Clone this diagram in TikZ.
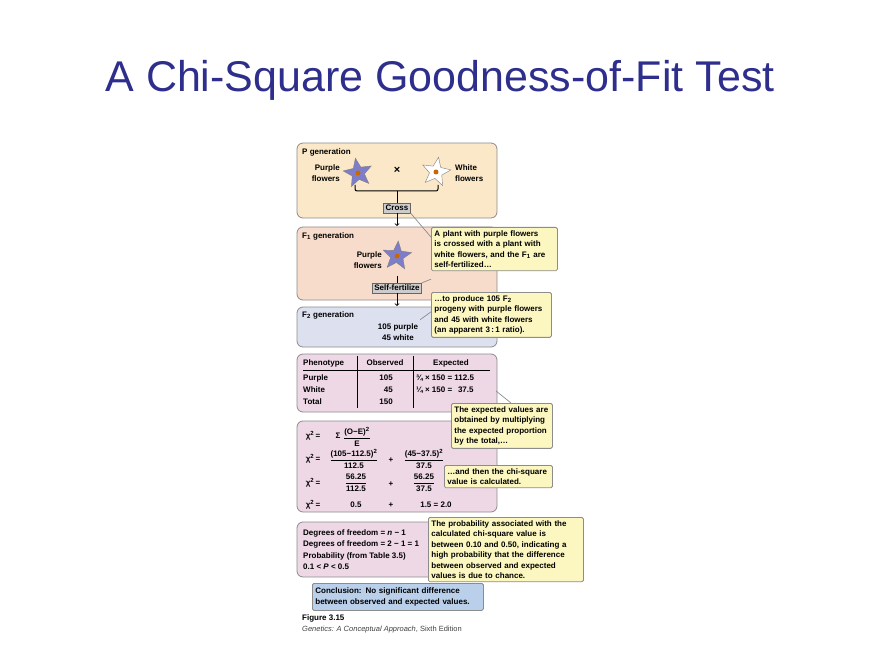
\documentclass[tikz,border=0pt]{standalone}
\usepackage{amsmath}
\usepackage{fontspec}
\setmainfont{Liberation Sans}
\usetikzlibrary{positioning, shapes.geometric}
\definecolor{titleblue}{HTML}{2E2E8C}
\definecolor{pgen}{HTML}{FBE8C8}
\definecolor{fgen}{HTML}{F7DCCB}
\definecolor{ftwo}{HTML}{DDE0EF}
\definecolor{calc}{HTML}{EED8E6}
\definecolor{note}{HTML}{FCF7C0}
\definecolor{concl}{HTML}{B9CFEA}
\definecolor{flowerp}{HTML}{7E7EC8}
\newcommand{\chisq}{χ\textsuperscript{2}\,=}
\tikzset{genbox/.style={draw=black!45, line width=0.8pt, rounded corners=6pt},
         callout/.style={draw=black!45, line width=0.8pt, fill=note, rounded corners=1.5pt, align=left, anchor=north west, inner sep=3pt},
         stepbox/.style={draw=black!60, fill=black!20, inner sep=2pt, font=\fontsize{8}{9}\selectfont\bfseries},
         txt/.style={font=\fontsize{8}{10.5}\selectfont\bfseries, inner sep=0pt, align=left},
         pointer/.style={draw=black!45, line width=0.7pt},
         flower/.style={star, star points=5, star point ratio=2.3, minimum size=30pt, inner sep=0pt, draw=black!50},
         every arrow/.style={thick,>=stealth}}
\begin{document}
\begin{tikzpicture}[x=1pt, y=-1pt]
        \useasboundingbox (0,0) rectangle (880,660);
        \node (title) at (440,80) {\fontsize{43}{45}\selectfont\color{titleblue}A Chi-Square Goodness-of-Fit Test};

        % generation panels
        \draw [genbox, fill=pgen] (297,143) rectangle (497,218);
        \draw [genbox, fill=fgen] (297,227) rectangle (497,300);
        \draw [genbox, fill=ftwo] (297,307) rectangle (497,347);
        \draw [genbox, fill=calc] (297,354) rectangle (497,412);
        \draw [genbox, fill=calc] (297,421) rectangle (497,512);
        \draw [genbox, fill=calc] (297,522) rectangle (497,577);

        % P generation
        \node (plabel)[txt, anchor=west] at (302,152) {P generation};
        \node (pflower)[flower, fill=flowerp, rotate=10] at (358,173) {};
        \fill [orange!80!black] (pflower.center) circle (2.5);
        \node (wflower)[flower, fill=white, rotate=-10] at (436,172) {};
        \fill [orange!80!black] (wflower.center) circle (2.5);
        \node (ptext)[txt, align=right, anchor=east] at (340,173) {Purple\\flowers};
        \node (wtext)[txt, anchor=west] at (455,173) {White\\flowers};
        \node (times)[txt] at (397,170) {\fontsize{11}{11}\selectfont ×};
        \node (cross)[stepbox] at (397,208) {Cross};
        \coordinate (brl) at (355,185);
        \coordinate (brr) at (438,185);
        \draw [line width=1pt, rounded corners=2pt] (brl) -- ++(0,6) -- ++(83,0) -- (brr);
        \draw [line width=1pt] (397,191) -- (cross.north);

        % F1 generation
        \node (fonelabel)[txt, anchor=west] at (302,236) {F\textsubscript{1} generation};
        \node (foneflower)[flower, fill=flowerp, rotate=-5] at (397,256) {};
        \fill [orange!80!black] (foneflower.center) circle (2.5);
        \node (fonetext)[txt, align=right, anchor=east] at (382,260) {Purple\\flowers};
        \node (self)[stepbox] at (397,288) {Self-fertilize};
        \draw [->, line width=0.8pt] (cross.south) -- (397,226);
        \draw [line width=0.8pt] (397,276) -- (self.north);
        \draw [->, line width=0.8pt] (self.south) -- (397,306);

        % F2 generation
        \node (ftwolabel)[txt, anchor=west] at (302,315) {F\textsubscript{2} generation};
        \node (counts)[txt, align=center] at (398,332) {105 purple\\45 white};

        % table
        \node (phen)[txt, anchor=west] at (303,363) {Phenotype};
        \node (obs)[txt] at (385,363) {Observed};
        \node (exp)[txt] at (451,363) {Expected};
        \draw [line width=0.6pt] (303,370) -- (490,370);
        \draw [line width=0.8pt] (357,356) -- (357,408);
        \draw [line width=0.8pt] (413,356) -- (413,408);
        \node (rows)[txt, anchor=north west, font=\fontsize{8}{12}\selectfont\bfseries] at (303,375) {Purple\\White\\Total};
        \node (obsval)[txt, align=right, anchor=north east, font=\fontsize{8}{12}\selectfont\bfseries] at (393,375) {105\\45\\150};
        \node (expval)[txt, anchor=north west, font=\fontsize{8}{12}\selectfont\bfseries] at (416,375) {¾ × 150 = 112.5\\¼ × 150 = \ \,37.5};

        % chi-square calculation
        \begin{scope}[every node/.style={txt}]
        \node (chia) at (313,436) {\chisq};
        \node (sigma) at (338,436) {Σ};
        \node (fraca) at (357,437) {$\dfrac{\text{(O−E)\textsuperscript{2}}}{\text{E}}$};
        \node (chib) at (313,459) {\chisq};
        \node (fracb) at (354,459) {$\dfrac{\text{(105−112.5)\textsuperscript{2}}}{\text{112.5}}$};
        \node (plusb) at (391,460) {+};
        \node (fracc) at (424,459) {$\dfrac{\text{(45−37.5)\textsuperscript{2}}}{\text{37.5}}$};
        \node (chic) at (313,483) {\chisq};
        \node (fracd) at (356,483) {$\dfrac{\text{56.25}}{\text{112.5}}$};
        \node (plusc) at (391,484) {+};
        \node (frace) at (424,483) {$\dfrac{\text{56.25}}{\text{37.5}}$};
        \node (chid) at (313,505) {\chisq};
        \node (halfval) at (356,505) {0.5};
        \node (plusd) at (391,505) {+};
        \node (sumval) at (436,505) {1.5 = 2.0};
        \end{scope}

        % degrees of freedom
        \node (dof)[txt, anchor=north west, font=\fontsize{8}{11.5}\selectfont\bfseries] at (303,529) {Degrees of freedom = \textit{n} − 1\\Degrees of freedom = 2 − 1 = 1\\Probability (from Table 3.5)\\0.1 < \textit{P} < 0.5};

        % conclusion
        \node (conc)[draw=black!45, line width=0.8pt, fill=concl, rounded corners=1.5pt, txt, inner sep=3pt, anchor=north west, text width=165pt, minimum height=27pt] at (312,583) {Conclusion: No significant difference\\between observed and expected values.};
        \node (fig)[anchor=west, inner sep=0pt, font=\fontsize{8}{9}\selectfont\bfseries] at (302,618) {Figure 3.15};
        \node (src)[anchor=west, inner sep=0pt, font=\fontsize{7.5}{9}\selectfont, text=black!75] at (302,630) {\textit{Genetics: A Conceptual Approach}, Sixth Edition};

        % callouts
        \node (noteone)[callout, txt, inner sep=3pt, text width=120pt] at (431,227) {A plant with purple flowers\\is crossed with a plant with\\white flowers, and the F\textsubscript{1} are\\self-fertilized\ldots};
        \node (notetwo)[callout, txt, inner sep=3pt, text width=114pt] at (431,292) {\ldots to produce 105 F\textsubscript{2}\\progeny with purple flowers\\and 45 with white flowers\\(an apparent 3\,:\,1 ratio).};
        \node (notethree)[callout, txt, inner sep=3pt, text width=95pt] at (451,403) {The expected values are\\obtained by multiplying\\the expected proportion\\ by the total,\ldots};
        \node (notefour)[callout, txt, inner sep=3pt, text width=102pt] at (444,465) {\ldots and then the chi-square\\value is calculated.};
        \node (notefive)[callout, txt, inner sep=3pt, text width=149pt] at (428,517) {The probability associated with the\\calculated chi-square value is\\between 0.10 and 0.50, indicating a\\high probability that the difference\\between observed and expected\\values is due to chance.};
        \draw [pointer] (cross.south east) -- ([yshift=12pt]noteone.west);
        \draw [pointer] (self.north east) -- ([yshift=-8pt]noteone.south west);
        \draw [pointer] (counts.north east) ++(2,-4) -- ([yshift=3pt]notetwo.west);
        \draw [pointer] (496,391) -- ([xshift=60pt]notethree.north west);
\end{tikzpicture}
\end{document}
